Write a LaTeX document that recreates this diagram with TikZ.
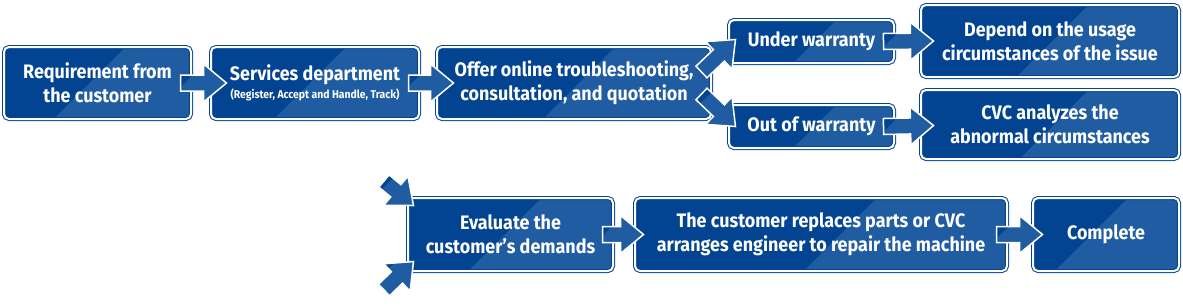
\documentclass[tikz,border=0pt]{standalone}
\usepackage{fontspec}
\setmainfont{Fira Sans}[FakeStretch=0.92]
\usetikzlibrary{calc}

\definecolor{azul}{RGB}{2,68,145}
\definecolor{azulclaro}{RGB}{31,92,162}

% flecha gruesa de #1 (cola) a #2 (punta)
\newcommand\flecha[2]{%
  \coordinate (fc) at ($(#2)!23pt!(#1)$);
  \filldraw[flechaestilo] ($(#1)!8pt!90:(#2)$) -- ($(fc)!8pt!90:(#2)$) -- ($(fc)!19pt!90:(#2)$)
    -- (#2) -- ($(fc)!19pt!-90:(#2)$) -- ($(fc)!8pt!-90:(#2)$) -- ($(#1)!8pt!-90:(#2)$) -- cycle;}

\tikzset{
  banda/.style={path picture={%
    \fill[azulclaro] ($(path picture bounding box.north east)!#1!(path picture bounding box.north west)$)
      -- +(400pt,0) -- +(400pt,-400pt) -- +(-400pt,-400pt) -- cycle;}},
  caja/.style={rectangle, rounded corners=5pt, fill=azul, draw=azul, line width=1pt,
    double=white, double distance=2pt, text=white, align=center, inner sep=0pt,
    font=\bfseries\fontsize{19.5}{24}\selectfont, banda=0.35},
  flechaestilo/.style={fill=azul, draw=white, line width=1.5pt, line join=miter, banda=0.5},
}

\begin{document}
\begin{tikzpicture}[x=1pt, y=-1pt]
  \useasboundingbox (0,0) rectangle (1183,306);
  % fila superior
  \node[caja, minimum width=187pt, minimum height=72pt] (req) at (97.5,83) {Requirement from\\the customer};
  \node[caja, minimum width=208pt, minimum height=72pt] (svc) at (315,83)
    {Services department\\[-6pt]{\fontsize{11.3}{13}\selectfont (Register, Accept and Handle, Track)}};
  \node[caja, minimum width=274pt, minimum height=72pt] (offer) at (574,83) {Offer online troubleshooting,\\consultation, and quotation};
  % garantia
  \node[caja, minimum width=165pt, minimum height=43pt] (under) at (811.5,41.5) {Under warranty};
  \node[caja, minimum width=165pt, minimum height=43pt] (out) at (811.5,126.5) {Out of warranty};
  \node[caja, minimum width=258pt, minimum height=72pt] (depend) at (1050,41) {Depend on the usage\\circumstances of the issue};
  \node[caja, minimum width=258pt, minimum height=69pt] (cvc) at (1050,124.5) {CVC analyzes the\\abnormal circumstances};
  % fila inferior
  \node[caja, minimum width=205pt, minimum height=73pt] (eval) at (510.5,234.5) {Evaluate the\\customer’s demands};
  \node[caja, minimum width=372pt, minimum height=73pt] (cust) at (821,234.5) {The customer replaces parts or CVC\\arranges engineer to repair the machine};
  \node[caja, minimum width=146pt, minimum height=73pt] (compl) at (1106,234.5) {Complete};
  % extremos de las flechas
  \coordinate (t1) at ($(req.east)+(-11,0)$);   \coordinate (p1) at ($(svc.west)+(16,0)$);
  \coordinate (t2) at ($(svc.east)+(-11,0)$);   \coordinate (p2) at ($(offer.west)+(17,0)$);
  \coordinate (t3) at ($(offer.east)+(-10,-11)$); \coordinate (p3) at ($(under.west)+(7,-2)$);
  \coordinate (t4) at ($(offer.east)+(-10,11)$);  \coordinate (p4) at ($(out.west)+(7,0)$);
  \coordinate (t5) at ($(under.east)+(-11,0)$); \coordinate (p5) at ($(depend.west)+(13,0)$);
  \coordinate (t6) at ($(out.east)+(-11,0)$);   \coordinate (p6) at ($(cvc.west)+(13,1)$);
  \coordinate (t7) at (384,181);                \coordinate (p7) at ($(eval.north west)+(6,8)$);
  \coordinate (t8) at (384,290);                \coordinate (p8) at ($(eval.south west)+(6,-10)$);
  \coordinate (t9) at ($(eval.east)+(-11,0)$);  \coordinate (p9) at ($(cust.west)+(9,0)$);
  \coordinate (t10) at ($(cust.east)+(-11,0)$); \coordinate (p10) at ($(compl.west)+(10,0)$);
  % flechas
  \foreach \i in {1,...,10} {\flecha{t\i}{p\i}}
\end{tikzpicture}
\end{document}
